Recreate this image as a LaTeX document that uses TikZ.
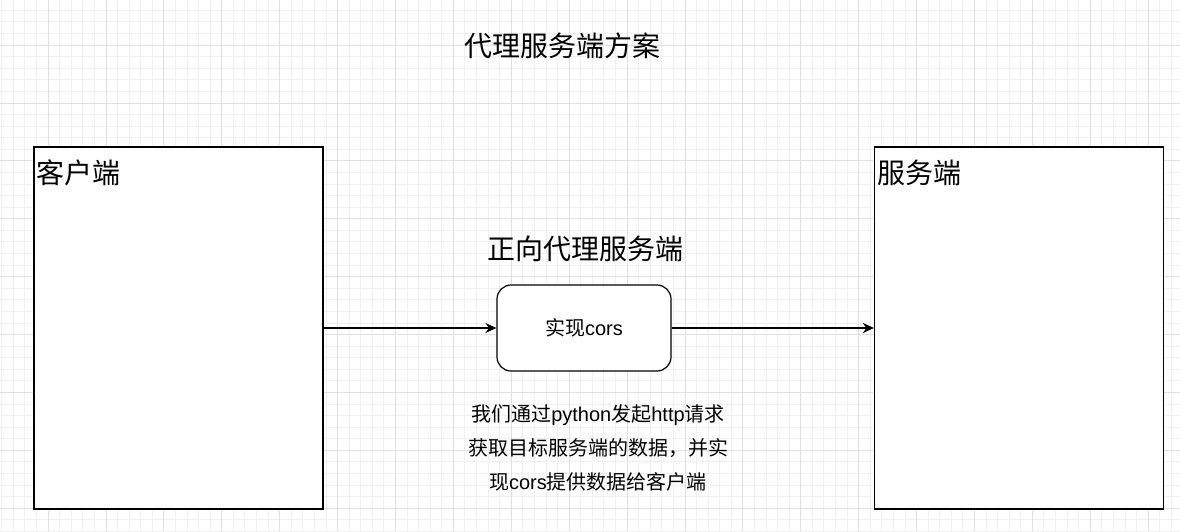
\documentclass[tikz,border=0pt]{standalone}
\usepackage{fontspec}
\setmainfont{Noto Sans CJK SC}
\newfontfamily\latn{Liberation Sans}
\usetikzlibrary{positioning,arrows.meta}

\begin{document}
\begin{tikzpicture}
    [x=1pt,y=-1pt,>={Stealth[length=11pt,width=10pt]},
     box/.style={draw,line width=1.2pt,minimum width=289pt,minimum height=362pt},
     big/.style={font=\fontsize{28}{34}\selectfont,inner sep=0pt},
     small/.style={font=\fontsize{20}{34}\selectfont,inner sep=0pt}]

    % grid background
    \useasboundingbox (0,0) rectangle (1180,531);
    \foreach \i in {-4,...,101} {
        \draw[black!6,line width=0.8pt] (48+11.58*\i,0) -- +(0,531);
        \draw[black!6,line width=0.8pt] (0,45+11.58*\i) -- +(1180,0);
    }
    \foreach \i in {-1,...,20} {
        \draw[black!12,line width=0.8pt] (48+57.9*\i,0) -- +(0,531);
        \draw[black!12,line width=0.8pt] (0,45+57.9*\i) -- +(1180,0);
    }

    \node[big] (title) at (562,46) {代理服务端方案};

    \node[box,fill=white] (client) at (178.5,328) {};
    \node[box,fill=white] (server) at (1019,328) {};
    \node[big,anchor=north west] (clientlabel) at ([shift={(3,13)}]client.north west) {客户端};
    \node[big,anchor=north west] (serverlabel) at ([shift={(3,13)}]server.north west) {服务端};

    \node[draw,line width=1.2pt,fill=white,rounded corners=14pt,
          minimum width=174pt,minimum height=86pt,small] (proxy) at (584,328) {实现{\latn cors}};
    \node[big] (proxylabel) at (585,249) {正向代理服务端};

    \node[small,align=center] (note) at (598,448)
        {我们通过{\latn python}发起{\latn http}请求\\获取目标服务端的数据，并实\\现{\latn cors}提供数据给客户端};

    \draw[->,line width=1.2pt] (client) -- (proxy);
    \draw[->,line width=1.2pt] (proxy) -- (server);

\end{tikzpicture}
\end{document}
